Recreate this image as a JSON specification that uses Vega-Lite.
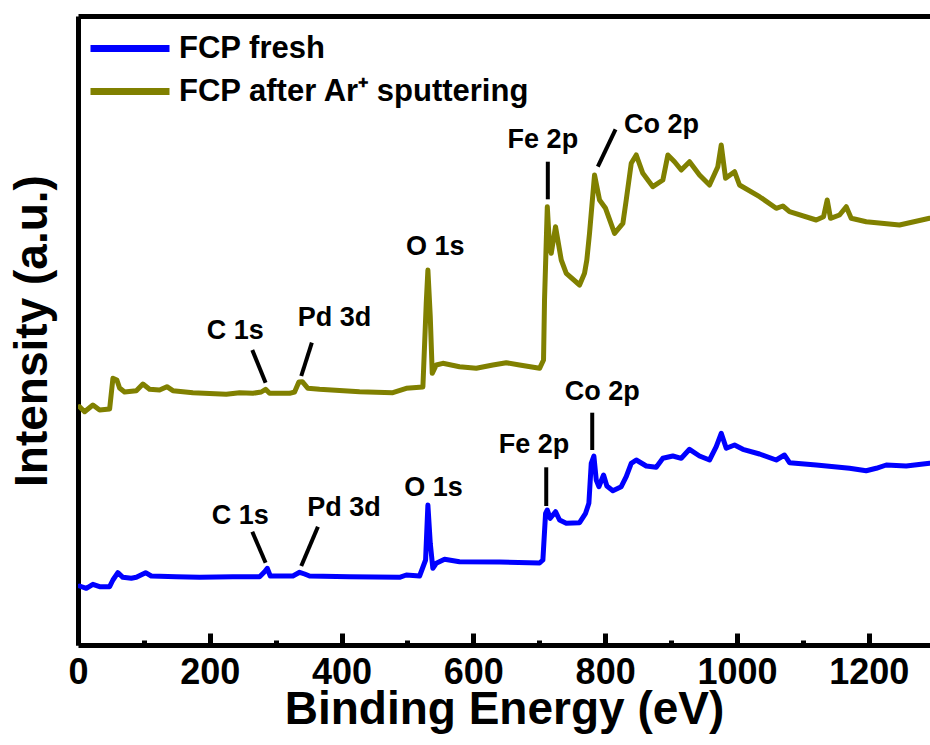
{
  "$schema": "https://vega.github.io/schema/vega-lite/v6.json",
  "width": 852,
  "height": 629,
  "autosize": {"type": "none"},
  "padding": {"left": 78, "top": 16, "right": 0, "bottom": 100},
  "background": "white",
  "config": {
    "view": {"stroke": null},
    "font": "Liberation Sans",
    "axis": {"grid": false, "domainColor": "black", "tickColor": "black", "labelColor": "black", "titleColor": "black"}
  },
  "datasets": {
    "spectra": [
      {"series": "FCP fresh", "be": 2.4, "intensity": 59},
      {"series": "FCP fresh", "be": 12.6, "intensity": 56.7},
      {"series": "FCP fresh", "be": 22.6, "intensity": 60.7},
      {"series": "FCP fresh", "be": 32.8, "intensity": 58.3},
      {"series": "FCP fresh", "be": 48, "intensity": 58.3},
      {"series": "FCP fresh", "be": 53, "intensity": 65},
      {"series": "FCP fresh", "be": 60.5, "intensity": 72.3},
      {"series": "FCP fresh", "be": 68.1, "intensity": 67.7},
      {"series": "FCP fresh", "be": 80.9, "intensity": 66.7},
      {"series": "FCP fresh", "be": 88.5, "intensity": 67.7},
      {"series": "FCP fresh", "be": 102.6, "intensity": 72.3},
      {"series": "FCP fresh", "be": 111.2, "intensity": 69},
      {"series": "FCP fresh", "be": 149.2, "intensity": 68.3},
      {"series": "FCP fresh", "be": 184.5, "intensity": 67.7},
      {"series": "FCP fresh", "be": 235, "intensity": 68.3},
      {"series": "FCP fresh", "be": 275.6, "intensity": 68.3},
      {"series": "FCP fresh", "be": 283.2, "intensity": 73.3},
      {"series": "FCP fresh", "be": 287.3, "intensity": 76.7},
      {"series": "FCP fresh", "be": 291.8, "intensity": 69},
      {"series": "FCP fresh", "be": 326.1, "intensity": 69},
      {"series": "FCP fresh", "be": 336.3, "intensity": 72.7},
      {"series": "FCP fresh", "be": 343.9, "intensity": 71},
      {"series": "FCP fresh", "be": 351.4, "intensity": 69},
      {"series": "FCP fresh", "be": 412.1, "intensity": 68.3},
      {"series": "FCP fresh", "be": 488, "intensity": 67.7},
      {"series": "FCP fresh", "be": 498.2, "intensity": 70},
      {"series": "FCP fresh", "be": 518.4, "intensity": 69},
      {"series": "FCP fresh", "be": 527.5, "intensity": 85},
      {"series": "FCP fresh", "be": 531, "intensity": 140},
      {"series": "FCP fresh", "be": 534.6, "intensity": 101.7},
      {"series": "FCP fresh", "be": 538.5, "intensity": 76.7},
      {"series": "FCP fresh", "be": 543.7, "intensity": 81.7},
      {"series": "FCP fresh", "be": 556.3, "intensity": 85.7},
      {"series": "FCP fresh", "be": 579, "intensity": 83.3},
      {"series": "FCP fresh", "be": 639.8, "intensity": 83},
      {"series": "FCP fresh", "be": 700.5, "intensity": 82},
      {"series": "FCP fresh", "be": 705.5, "intensity": 85},
      {"series": "FCP fresh", "be": 709.6, "intensity": 131.7},
      {"series": "FCP fresh", "be": 712.2, "intensity": 135},
      {"series": "FCP fresh", "be": 716.7, "intensity": 126.7},
      {"series": "FCP fresh", "be": 724.7, "intensity": 133.3},
      {"series": "FCP fresh", "be": 730.8, "intensity": 125},
      {"series": "FCP fresh", "be": 741, "intensity": 121.7},
      {"series": "FCP fresh", "be": 761.2, "intensity": 122.3},
      {"series": "FCP fresh", "be": 770.3, "intensity": 131.7},
      {"series": "FCP fresh", "be": 775.3, "intensity": 141.7},
      {"series": "FCP fresh", "be": 778.9, "intensity": 181.7},
      {"series": "FCP fresh", "be": 782.9, "intensity": 189},
      {"series": "FCP fresh", "be": 786.5, "intensity": 165},
      {"series": "FCP fresh", "be": 790.5, "intensity": 158.3},
      {"series": "FCP fresh", "be": 797.6, "intensity": 170},
      {"series": "FCP fresh", "be": 802.6, "intensity": 159},
      {"series": "FCP fresh", "be": 811.7, "intensity": 154.3},
      {"series": "FCP fresh", "be": 824.4, "intensity": 158.3},
      {"series": "FCP fresh", "be": 832, "intensity": 168.3},
      {"series": "FCP fresh", "be": 839.6, "intensity": 181.7},
      {"series": "FCP fresh", "be": 847.2, "intensity": 185},
      {"series": "FCP fresh", "be": 862.4, "intensity": 179},
      {"series": "FCP fresh", "be": 877.5, "intensity": 177.7},
      {"series": "FCP fresh", "be": 887.6, "intensity": 186.7},
      {"series": "FCP fresh", "be": 902.7, "intensity": 189},
      {"series": "FCP fresh", "be": 915.5, "intensity": 186.7},
      {"series": "FCP fresh", "be": 928, "intensity": 195.7},
      {"series": "FCP fresh", "be": 943.2, "intensity": 189},
      {"series": "FCP fresh", "be": 958.4, "intensity": 185},
      {"series": "FCP fresh", "be": 968.6, "intensity": 198.3},
      {"series": "FCP fresh", "be": 976.2, "intensity": 211.7},
      {"series": "FCP fresh", "be": 983.8, "intensity": 196.7},
      {"series": "FCP fresh", "be": 996.4, "intensity": 200},
      {"series": "FCP fresh", "be": 1009, "intensity": 195.7},
      {"series": "FCP fresh", "be": 1034.3, "intensity": 191},
      {"series": "FCP fresh", "be": 1059.6, "intensity": 185},
      {"series": "FCP fresh", "be": 1072.2, "intensity": 190},
      {"series": "FCP fresh", "be": 1079.8, "intensity": 182.3},
      {"series": "FCP fresh", "be": 1120.3, "intensity": 180},
      {"series": "FCP fresh", "be": 1170.9, "intensity": 176.7},
      {"series": "FCP fresh", "be": 1196.2, "intensity": 174.3},
      {"series": "FCP fresh", "be": 1211.4, "intensity": 176.7},
      {"series": "FCP fresh", "be": 1226.6, "intensity": 180},
      {"series": "FCP fresh", "be": 1256.9, "intensity": 179},
      {"series": "FCP fresh", "be": 1292.3, "intensity": 181.7},
      {"series": "FCP after Ar⁺ sputtering", "be": 2.4, "intensity": 238.3},
      {"series": "FCP after Ar⁺ sputtering", "be": 10, "intensity": 233.3},
      {"series": "FCP after Ar⁺ sputtering", "be": 22.6, "intensity": 240},
      {"series": "FCP after Ar⁺ sputtering", "be": 32.8, "intensity": 235},
      {"series": "FCP after Ar⁺ sputtering", "be": 48, "intensity": 236},
      {"series": "FCP after Ar⁺ sputtering", "be": 53, "intensity": 266.7},
      {"series": "FCP after Ar⁺ sputtering", "be": 59, "intensity": 265},
      {"series": "FCP after Ar⁺ sputtering", "be": 63.1, "intensity": 257},
      {"series": "FCP after Ar⁺ sputtering", "be": 70.7, "intensity": 253},
      {"series": "FCP after Ar⁺ sputtering", "be": 88.5, "intensity": 254.3},
      {"series": "FCP after Ar⁺ sputtering", "be": 98.5, "intensity": 261},
      {"series": "FCP after Ar⁺ sputtering", "be": 108.6, "intensity": 255.7},
      {"series": "FCP after Ar⁺ sputtering", "be": 123.8, "intensity": 255},
      {"series": "FCP after Ar⁺ sputtering", "be": 134.9, "intensity": 258.3},
      {"series": "FCP after Ar⁺ sputtering", "be": 144, "intensity": 254.3},
      {"series": "FCP after Ar⁺ sputtering", "be": 174.4, "intensity": 252.3},
      {"series": "FCP after Ar⁺ sputtering", "be": 225, "intensity": 250.7},
      {"series": "FCP after Ar⁺ sputtering", "be": 245.2, "intensity": 252.3},
      {"series": "FCP after Ar⁺ sputtering", "be": 265.4, "intensity": 251.7},
      {"series": "FCP after Ar⁺ sputtering", "be": 278.1, "intensity": 253},
      {"series": "FCP after Ar⁺ sputtering", "be": 284.7, "intensity": 255.7},
      {"series": "FCP after Ar⁺ sputtering", "be": 290.7, "intensity": 251.7},
      {"series": "FCP after Ar⁺ sputtering", "be": 321.1, "intensity": 251.7},
      {"series": "FCP after Ar⁺ sputtering", "be": 328.7, "intensity": 253},
      {"series": "FCP after Ar⁺ sputtering", "be": 335.2, "intensity": 263},
      {"series": "FCP after Ar⁺ sputtering", "be": 340.4, "intensity": 263.3},
      {"series": "FCP after Ar⁺ sputtering", "be": 348.9, "intensity": 256.7},
      {"series": "FCP after Ar⁺ sputtering", "be": 366.6, "intensity": 255.7},
      {"series": "FCP after Ar⁺ sputtering", "be": 427.3, "intensity": 253.3},
      {"series": "FCP after Ar⁺ sputtering", "be": 477.8, "intensity": 252.3},
      {"series": "FCP after Ar⁺ sputtering", "be": 498.2, "intensity": 256.7},
      {"series": "FCP after Ar⁺ sputtering", "be": 523.4, "intensity": 258},
      {"series": "FCP after Ar⁺ sputtering", "be": 528.5, "intensity": 342},
      {"series": "FCP after Ar⁺ sputtering", "be": 531, "intensity": 375},
      {"series": "FCP after Ar⁺ sputtering", "be": 534.6, "intensity": 328.3},
      {"series": "FCP after Ar⁺ sputtering", "be": 537.6, "intensity": 271.7},
      {"series": "FCP after Ar⁺ sputtering", "be": 543.7, "intensity": 280},
      {"series": "FCP after Ar⁺ sputtering", "be": 553.7, "intensity": 281.7},
      {"series": "FCP after Ar⁺ sputtering", "be": 579, "intensity": 278.3},
      {"series": "FCP after Ar⁺ sputtering", "be": 604.4, "intensity": 276.7},
      {"series": "FCP after Ar⁺ sputtering", "be": 629.6, "intensity": 280},
      {"series": "FCP after Ar⁺ sputtering", "be": 649.9, "intensity": 282.3},
      {"series": "FCP after Ar⁺ sputtering", "be": 670.1, "intensity": 280},
      {"series": "FCP after Ar⁺ sputtering", "be": 700.5, "intensity": 276.7},
      {"series": "FCP after Ar⁺ sputtering", "be": 706.5, "intensity": 285},
      {"series": "FCP after Ar⁺ sputtering", "be": 708, "intensity": 345},
      {"series": "FCP after Ar⁺ sputtering", "be": 712.2, "intensity": 438.3},
      {"series": "FCP after Ar⁺ sputtering", "be": 715.6, "intensity": 398.3},
      {"series": "FCP after Ar⁺ sputtering", "be": 718.2, "intensity": 391.7},
      {"series": "FCP after Ar⁺ sputtering", "be": 724.7, "intensity": 418.3},
      {"series": "FCP after Ar⁺ sputtering", "be": 733.4, "intensity": 385},
      {"series": "FCP after Ar⁺ sputtering", "be": 741, "intensity": 371.7},
      {"series": "FCP after Ar⁺ sputtering", "be": 761.2, "intensity": 360},
      {"series": "FCP after Ar⁺ sputtering", "be": 768.7, "intensity": 371.7},
      {"series": "FCP after Ar⁺ sputtering", "be": 772.2, "intensity": 385},
      {"series": "FCP after Ar⁺ sputtering", "be": 776.3, "intensity": 411.7},
      {"series": "FCP after Ar⁺ sputtering", "be": 783.9, "intensity": 470},
      {"series": "FCP after Ar⁺ sputtering", "be": 791.5, "intensity": 445},
      {"series": "FCP after Ar⁺ sputtering", "be": 800.6, "intensity": 436.7},
      {"series": "FCP after Ar⁺ sputtering", "be": 814.3, "intensity": 411.7},
      {"series": "FCP after Ar⁺ sputtering", "be": 826.9, "intensity": 421.7},
      {"series": "FCP after Ar⁺ sputtering", "be": 832, "intensity": 445},
      {"series": "FCP after Ar⁺ sputtering", "be": 839.6, "intensity": 481.7},
      {"series": "FCP after Ar⁺ sputtering", "be": 847.2, "intensity": 490},
      {"series": "FCP after Ar⁺ sputtering", "be": 857.2, "intensity": 471.7},
      {"series": "FCP after Ar⁺ sputtering", "be": 872.4, "intensity": 458.3},
      {"series": "FCP after Ar⁺ sputtering", "be": 887.6, "intensity": 465},
      {"series": "FCP after Ar⁺ sputtering", "be": 895.2, "intensity": 490},
      {"series": "FCP after Ar⁺ sputtering", "be": 905.3, "intensity": 483.3},
      {"series": "FCP after Ar⁺ sputtering", "be": 915.5, "intensity": 475},
      {"series": "FCP after Ar⁺ sputtering", "be": 928.1, "intensity": 483.3},
      {"series": "FCP after Ar⁺ sputtering", "be": 943.2, "intensity": 470},
      {"series": "FCP after Ar⁺ sputtering", "be": 958.4, "intensity": 460},
      {"series": "FCP after Ar⁺ sputtering", "be": 971, "intensity": 478.3},
      {"series": "FCP after Ar⁺ sputtering", "be": 976.2, "intensity": 500},
      {"series": "FCP after Ar⁺ sputtering", "be": 982.7, "intensity": 466.7},
      {"series": "FCP after Ar⁺ sputtering", "be": 996.4, "intensity": 473.3},
      {"series": "FCP after Ar⁺ sputtering", "be": 1003.9, "intensity": 460},
      {"series": "FCP after Ar⁺ sputtering", "be": 1034.3, "intensity": 448.3},
      {"series": "FCP after Ar⁺ sputtering", "be": 1059.6, "intensity": 436.7},
      {"series": "FCP after Ar⁺ sputtering", "be": 1069.7, "intensity": 439},
      {"series": "FCP after Ar⁺ sputtering", "be": 1079.8, "intensity": 433.3},
      {"series": "FCP after Ar⁺ sputtering", "be": 1120.3, "intensity": 425},
      {"series": "FCP after Ar⁺ sputtering", "be": 1131.4, "intensity": 428.3},
      {"series": "FCP after Ar⁺ sputtering", "be": 1137, "intensity": 445},
      {"series": "FCP after Ar⁺ sputtering", "be": 1142, "intensity": 426.7},
      {"series": "FCP after Ar⁺ sputtering", "be": 1155.7, "intensity": 430},
      {"series": "FCP after Ar⁺ sputtering", "be": 1165.9, "intensity": 438.3},
      {"series": "FCP after Ar⁺ sputtering", "be": 1173.4, "intensity": 426.7},
      {"series": "FCP after Ar⁺ sputtering", "be": 1196.2, "intensity": 423.3},
      {"series": "FCP after Ar⁺ sputtering", "be": 1246.7, "intensity": 420},
      {"series": "FCP after Ar⁺ sputtering", "be": 1292.3, "intensity": 426.7}
    ],
    "labels": [
      {"label": "C 1s", "be": 238.7, "intensity": 314},
      {"label": "Pd 3d", "be": 389.4, "intensity": 327.3},
      {"label": "O 1s", "be": 542.3, "intensity": 398.3},
      {"label": "Fe 2p", "be": 705.5, "intensity": 505},
      {"label": "Co 2p", "be": 885.6, "intensity": 520},
      {"label": "C 1s", "be": 246.3, "intensity": 129.3},
      {"label": "Pd 3d", "be": 403.5, "intensity": 137.3},
      {"label": "O 1s", "be": 539.6, "intensity": 156.7},
      {"label": "Fe 2p", "be": 692.1, "intensity": 200.3},
      {"label": "Co 2p", "be": 795.6, "intensity": 253.3}
    ],
    "leaders": [
      {"be": 264.5, "intensity": 295, "be2": 284.7, "intensity2": 262.3},
      {"be": 354.9, "intensity": 302.3, "be2": 338.8, "intensity2": 269},
      {"be": 713, "intensity": 483.3, "be2": 713, "intensity2": 445.7},
      {"be": 815.8, "intensity": 515.7, "be2": 788.9, "intensity2": 478.3},
      {"be": 264.5, "intensity": 113.3, "be2": 284.7, "intensity2": 82.3},
      {"be": 364.1, "intensity": 118.3, "be2": 338.8, "intensity2": 79},
      {"be": 710.6, "intensity": 177.7, "be2": 710.6, "intensity2": 139},
      {"be": 780.4, "intensity": 232.3, "be2": 780.4, "intensity2": 195}
    ]
  },
  "layer": [
    {
      "data": {"name": "spectra"},
      "mark": {"type": "line", "strokeWidth": 5, "strokeJoin": "round", "strokeCap": "round", "clip": true},
      "encoding": {
        "x": {
          "field": "be", "type": "quantitative",
          "scale": {"domain": [0, 1293], "nice": false, "zero": false},
          "axis": {
            "orient": "bottom",
            "values": [0, 200, 400, 600, 800, 1000, 1200],
            "format": "d",
            "tickSize": -12, "tickWidth": 5, "domainWidth": 5,
            "labelFontSize": 36, "labelFontWeight": "bold", "labelPadding": 22, "labelFlush": false,
            "title": "Binding Energy (eV)", "titleFontSize": 46, "titleFontWeight": "bold", "titlePadding": -3
          }
        },
        "y": {
          "field": "intensity", "type": "quantitative",
          "scale": {"domain": [0, 629], "nice": false, "zero": false},
          "axis": {
            "ticks": false, "labels": false, "domainWidth": 5,
            "title": "Intensity (a.u.)", "titleFontSize": 46, "titleFontWeight": "bold", "titlePadding": 22
          }
        },
        "color": {
          "field": "series", "type": "nominal",
          "scale": {"domain": ["FCP fresh", "FCP after Ar⁺ sputtering"], "range": ["#0000ff", "#808000"]},
          "sort": ["FCP fresh", "FCP after Ar⁺ sputtering"],
          "legend": {
            "title": null, "orient": "none", "legendX": 48, "legendY": 9,
            "symbolType": "M-2.95,0L1,0", "symbolStrokeWidth": 7, "symbolSize": 1600,
            "labelFontSize": 31, "labelFontWeight": "bold", "labelColor": "black", "labelOffset": 6,
            "rowPadding": 4, "padding": 0, "labelLimit": 600
          }
        }
      }
    },
    {
      "data": {"name": "labels"},
      "mark": {"type": "text", "fontSize": 27, "fontWeight": "bold", "color": "black", "baseline": "middle", "align": "center"},
      "encoding": {
        "x": {
          "field": "be", "type": "quantitative",
          "axis": {"orient": "top", "ticks": false, "labels": false, "domainWidth": 5, "title": null}
        },
        "y": {"field": "intensity", "type": "quantitative"},
        "text": {"field": "label"}
      }
    },
    {
      "data": {"name": "leaders"},
      "mark": {"type": "rule", "strokeWidth": 4, "color": "black"},
      "encoding": {
        "x": {
          "field": "be", "type": "quantitative",
          "axis": {"orient": "bottom", "values": [100, 300, 500, 700, 900, 1100], "tickSize": -5, "tickWidth": 5, "labels": false, "domain": false, "title": null}
        },
        "y": {"field": "intensity", "type": "quantitative"},
        "x2": {"field": "be2"},
        "y2": {"field": "intensity2"}
      }
    }
  ],
  "resolve": {"axis": {"x": "independent"}}
}
